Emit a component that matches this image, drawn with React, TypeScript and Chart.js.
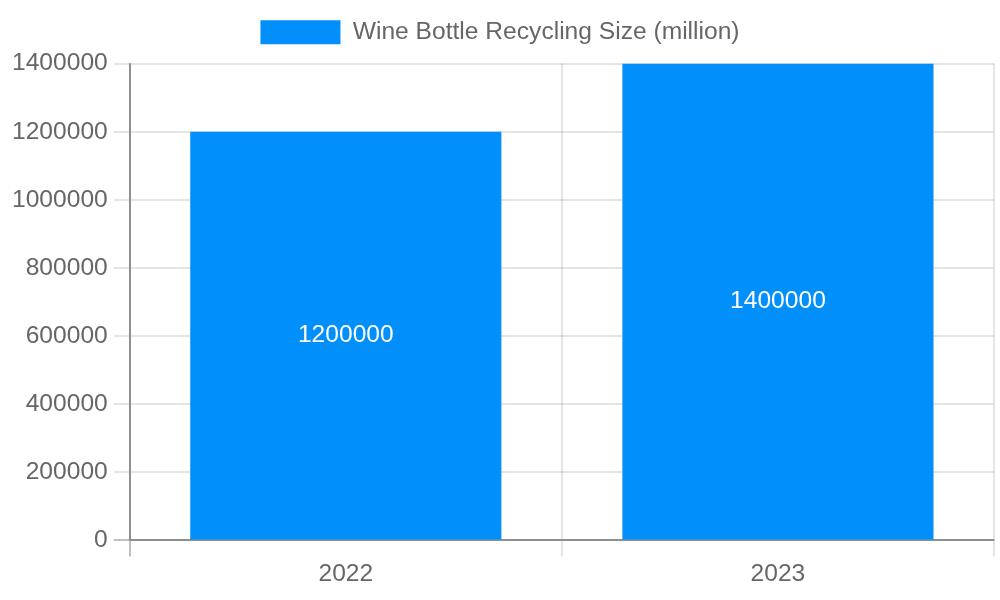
import { useEffect, useRef } from "react"
import { Chart, registerables } from "chart.js"

Chart.register(...registerables)

const years = ["2022", "2023"]
const recycling = [1200000, 1400000]
const seriesLabel = "Wine Bottle Recycling Size (million)"

const FONT = "'Liberation Sans', Arial, sans-serif"
const SIZE = 24.6
const LIGHT = "rgba(0, 0, 0, 0.1)"
const DARK = "rgba(0, 0, 0, 0.25)"

// draws the value in the middle of each bar
const barValues = {
  id: "barValues",
  afterDatasetsDraw(chart: Chart) {
    const ctx = chart.ctx
    chart.data.datasets.forEach((ds, i) => {
      const meta = chart.getDatasetMeta(i)
      meta.data.forEach((bar: any, j) => {
        ctx.save()
        ctx.fillStyle = "#ffffff"
        ctx.font = `${SIZE}px ${FONT}`
        ctx.textAlign = "center"
        ctx.textBaseline = "middle"
        ctx.fillText(String(ds.data[j]), bar.x, (bar.y + bar.base) / 2)
        ctx.restore()
      })
    })
  },
}

// a bit more room under the legend
const legendGap = {
  id: "legendGap",
  beforeInit(chart: any) {
    const legend = chart.legend
    if (!legend) return
    const fit = legend.fit
    legend.fit = function () {
      fit.call(this)
      this.height += 9
    }
  },
}

export default function App() {
  const chartRef = useRef<HTMLCanvasElement>(null)
  const chartInstance = useRef<Chart | null>(null)

  useEffect(() => {
    document.body.style.margin = "0"
    if (!chartRef.current) return
    if (chartInstance.current) chartInstance.current.destroy()

    chartInstance.current = new Chart(chartRef.current, {
      type: "bar",
      data: {
        labels: years,
        datasets: [
          {
            label: seriesLabel,
            data: recycling,
            backgroundColor: "#008ffb",
            borderWidth: 0,
          },
        ],
      },
      options: {
        animation: false,
        responsive: true,
        maintainAspectRatio: false,
        layout: { padding: { left: 6, right: 6, bottom: 8 } },
        plugins: {
          legend: {
            position: "top",
            labels: {
              boxWidth: 80,
              boxHeight: 24,
              padding: 20,
              color: "#666",
              font: { size: SIZE, family: FONT },
            },
          },
          tooltip: { enabled: false },
        },
        scales: {
          x: {
            grid: {
              color: (c: any) => (c.index === 0 ? DARK : LIGHT),
              lineWidth: 2,
              tickLength: 16,
            },
            border: { color: DARK, width: 2 },
            ticks: { color: "#666", padding: 3, font: { size: SIZE, family: FONT } },
          },
          y: {
            beginAtZero: true,
            max: 1400000,
            grid: {
              color: (c: any) => (c.tick && c.tick.value === 0 ? DARK : LIGHT),
              lineWidth: 2,
              tickLength: 16,
            },
            border: { color: DARK, width: 2 },
            ticks: {
              stepSize: 200000,
              color: "#666",
              padding: 6,
              font: { size: SIZE, family: FONT },
              callback: (v: any) => String(v),
            },
          },
        },
      },
      plugins: [barValues, legendGap],
    })

    return () => {
      if (chartInstance.current) {
        chartInstance.current.destroy()
        chartInstance.current = null
      }
    }
  }, [])

  return (
    <div style={{ width: 1000, height: 600, position: "relative" }}>
      <canvas ref={chartRef} />
    </div>
  )
}
